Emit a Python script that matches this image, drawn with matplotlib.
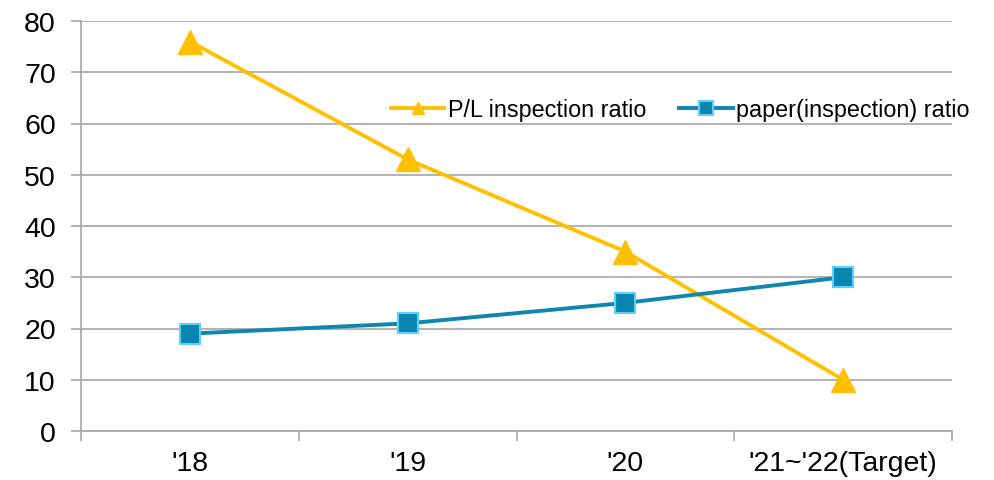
import matplotlib.pyplot as plt
import numpy as np

plt.rcParams['font.family'] = ['Liberation Sans', 'DejaVu Sans']

categories = ["'18", "'19", "'20", "'21~'22(Target)"]
pl_ratio = [76, 53, 35, 10]
paper_ratio = [19, 21, 25, 30]

fig = plt.figure(figsize=(9.95, 4.81), dpi=100)
ax = fig.add_axes([81 / 995, 49 / 481, 871 / 995, 410 / 481])

x = np.arange(len(categories))
ax.plot(x, pl_ratio, color='#FFC000', lw=2.8, marker='^', ms=17,
        mfc='#FFC000', mec='#FFC000', label='P/L inspection ratio', zorder=3)
ax.plot(x, paper_ratio, color='#0E86B0', lw=2.8, marker='s', ms=14,
        mfc='#0A85B0', mec='#5CD1F7', mew=1.5, label='paper(inspection) ratio', zorder=3)

ax.set_xlim(-0.5, len(categories) - 0.5)
ax.set_ylim(0, 80)
ax.set_yticks(range(0, 81, 10))
ax.yaxis.grid(True, color='#A6A6A6', lw=1.2)
ax.set_axisbelow(True)

ax.set_xticks(np.arange(-0.5, len(categories), 1.0))
ax.set_xticklabels([])
ax.set_xticks(x, minor=True)
ax.set_xticklabels(categories, minor=True)
ax.tick_params(axis='x', which='major', length=7, color='#A6A6A6', width=1.2)
ax.tick_params(axis='x', which='minor', length=0, pad=14, labelsize=20.5)
ax.tick_params(axis='y', length=7, color='#A6A6A6', width=1.2, pad=11, labelsize=20.5)

for s in ['top', 'right']:
    ax.spines[s].set_visible(False)
for s in ['left', 'bottom']:
    ax.spines[s].set_color('#A6A6A6')
    ax.spines[s].set_linewidth(1.2)

leg = ax.legend(loc='center', bbox_to_anchor=(0.688, 0.783), ncol=2, frameon=False,
                fontsize=16.8, handlelength=2.3, handletextpad=0.15, columnspacing=1.4,
                borderpad=0, borderaxespad=0)
# legend markers are drawn smaller than the ones on the lines
leg.legend_handles[0].set_markersize(9)
leg.legend_handles[1].set_markersize(9.5)

fig.savefig('out.png', dpi=100)
